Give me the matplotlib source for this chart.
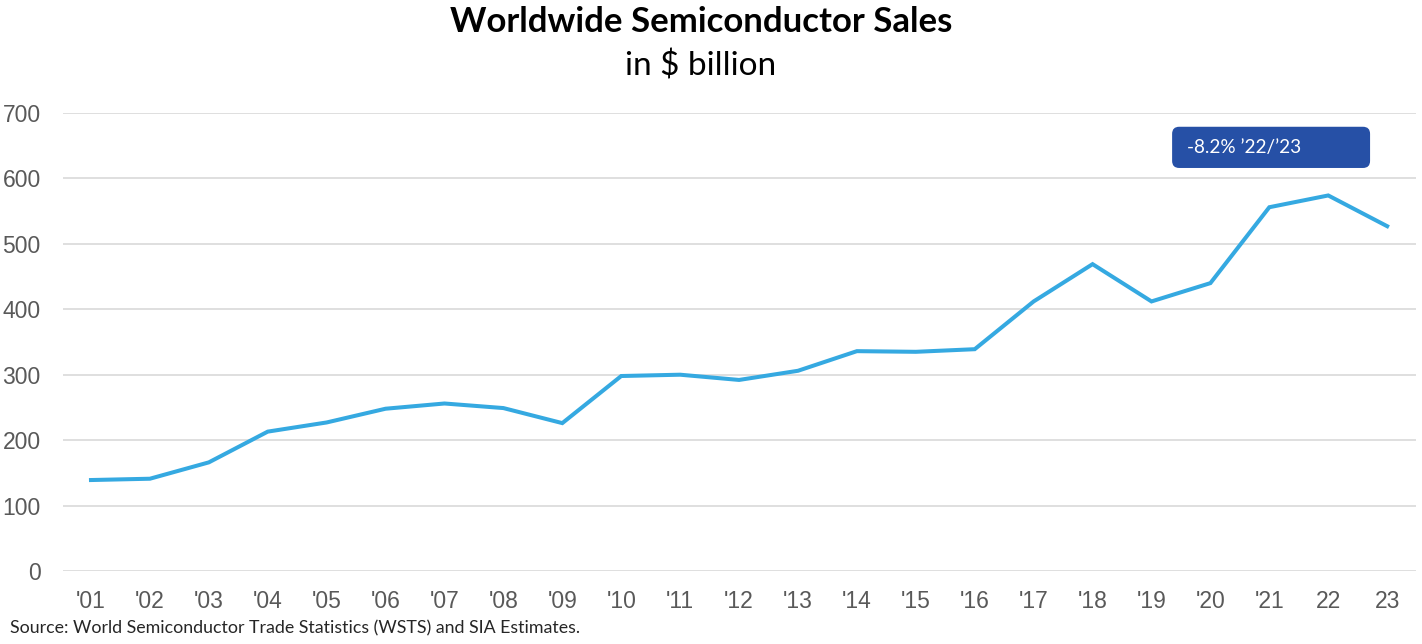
import matplotlib
matplotlib.use("Agg")
import matplotlib.pyplot as plt
from matplotlib.patches import FancyBboxPatch
from matplotlib import font_manager

# worldwide semiconductor sales, $ billion
years = ["'01", "'02", "'03", "'04", "'05", "'06", "'07", "'08", "'09", "'10", "'11",
         "'12", "'13", "'14", "'15", "'16", "'17", "'18", "'19", "'20", "'21", "22", "23"]
sales = [139, 141, 166, 213, 227, 248, 256, 249, 226, 298, 300,
         292, 306, 336, 335, 339, 412, 469, 412, 440, 556, 574, 527]
yticks = [0, 100, 200, 300, 400, 500, 600, 700]
note = "-8.2% \u201922/\u201923"

installed = set(f.name for f in font_manager.fontManager.ttflist)
tick_font = "Liberation Sans Narrow" if "Liberation Sans Narrow" in installed else "Liberation Sans"
title_font = "Lato"

fig = plt.figure(figsize=(14.22, 6.44), dpi=100)
ax = fig.add_axes([0.0443, 0.1134, 0.9515, 0.7111])

x = list(range(len(years)))
ax.plot(x, sales, color="#35A9E1", lw=2.9, solid_joinstyle="miter", zorder=3)

ax.set_xlim(-0.475, 22.49)
ax.set_ylim(0, 700)
ax.set_yticks(yticks)
ax.set_xticks(x)
ax.set_xticklabels(years)
ax.grid(axis="y", color="#D9D9D9", lw=1.2)
ax.set_axisbelow(True)
for s in ax.spines.values():
    s.set_visible(False)
ax.tick_params(length=0, colors="#595959", labelsize=16.5, pad=14)
ax.tick_params(axis="y", pad=16)
for lab in ax.get_xticklabels() + ax.get_yticklabels():
    lab.set_fontfamily(tick_font)

# annotation box
px_x = 1 / 58.9
px_y = 1 / 0.654
box = FancyBboxPatch((18.35, 616), 3.36, 63,
                     boxstyle="round,pad=0,rounding_size=0.12",
                     mutation_aspect=px_y / px_x,
                     fc="#2650A6", ec="none", zorder=4)
ax.add_patch(box)
ax.text(18.6, 647.5, note, color="white", fontsize=13.7, family=title_font,
        ha="left", va="center", zorder=5)

fig.text(0.493, 0.966, "Worldwide Semiconductor Sales", ha="center", va="center",
         fontsize=25, fontweight="bold", family=title_font, color="black")
fig.text(0.493, 0.898, "in $ billion", ha="center", va="center",
         fontsize=24, family=title_font, color="black")
fig.text(0.007, 0.025, "Source: World Semiconductor Trade Statistics (WSTS) and SIA Estimates.",
         ha="left", va="center", fontsize=12.8, family=title_font, color="#262626")

fig.savefig("out.png", dpi=100)
